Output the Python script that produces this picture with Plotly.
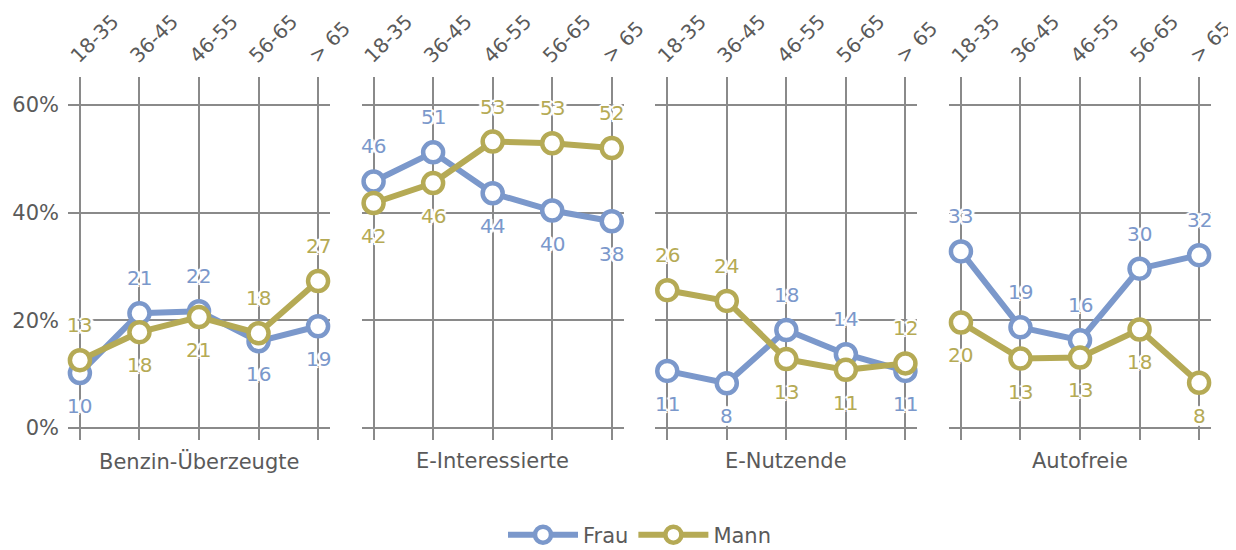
import plotly.graph_objects as go

categories = ["18-35", "36-45", "46-55", "56-65", "> 65"]
groups = ["Benzin-Überzeugte", "E-Interessierte", "E-Nutzende", "Autofreie"]

frau_benzin = [10.2, 21.3, 21.7, 16.1, 18.9]
mann_benzin = [12.6, 17.8, 20.6, 17.6, 27.3]
frau_einteressierte = [45.8, 51.2, 43.6, 40.4, 38.4]
mann_einteressierte = [41.8, 45.5, 53.2, 52.9, 52.0]
frau_enutzende = [10.6, 8.3, 18.2, 13.7, 10.6]
mann_enutzende = [25.6, 23.6, 12.8, 10.8, 12.0]
frau_autofrei = [32.8, 18.7, 16.3, 29.6, 32.1]
mann_autofrei = [19.6, 12.9, 13.1, 18.3, 8.4]

frau = [frau_benzin, frau_einteressierte, frau_enutzende, frau_autofrei]
mann = [mann_benzin, mann_einteressierte, mann_enutzende, mann_autofrei]

y_ticks = [0, 20, 40, 60]
y_ticklabels = ["0%", "20%", "40%", "60%"]

BLUE = "#7b98cb"
OLIVE = "#b5aa55"
GRID = "#8a8a8a"
TXT = "#5a5a5a"
FONT = "DejaVu Sans"
HALO = ("2px 0px 0px white, -2px 0px 0px white, 0px 2px 0px white, 0px -2px 0px white, "
        "1.5px 1.5px 0px white, -1.5px -1.5px 0px white, 1.5px -1.5px 0px white, -1.5px 1.5px 0px white, "
        "3px 0px 1px white, -3px 0px 1px white, 0px 3px 1px white, 0px -3px 1px white")

# page body has an 8px default margin; figure is sized to fit the 1236x550 window
W, H = 1228, 542
ML, MR, MT, MB = 60, 25, 69, 110
plot_h = H - MT - MB

fig = go.Figure()
n = len(groups)
w = 0.2292
gap = (1 - n * w) / (n - 1)
annotations = []
for i, g in enumerate(groups):
    xa = "x" if i == 0 else f"x{i+1}"
    ya = "y" if i == 0 else f"y{i+1}"
    for name, vals, other, col in [("Frau", frau[i], mann[i], BLUE), ("Mann", mann[i], frau[i], OLIVE)]:
        fig.add_trace(go.Scatter(
            x=categories, y=vals, name=name, mode="lines+markers",
            line=dict(color=col, width=6),
            marker=dict(symbol="circle", size=20, color="white", line=dict(color=col, width=4.5)),
            showlegend=(i == 0), legendgroup=name,
            xaxis=xa, yaxis=ya, cliponaxis=False, hoverinfo="skip",
        ))
        for c, v, o in zip(categories, vals, other):
            annotations.append(dict(
                x=c, y=v, xref=xa, yref=ya, text=f"{v:.0f}", showarrow=False,
                yshift=35 if v >= o else -33,
                font=dict(family=FONT, size=20, color=col, shadow=HALO),
            ))
    d0 = i * (w + gap)
    d1 = min(d0 + w, 1)
    annotations.append(dict(
        x=(d0 + d1) / 2, y=-21 / plot_h, xref="paper", yref="paper", text=g,
        showarrow=False, yanchor="middle", xanchor="center",
        font=dict(family=FONT, size=21, color=TXT),
    ))
    xkey = "xaxis" if i == 0 else f"xaxis{i+1}"
    ykey = "yaxis" if i == 0 else f"yaxis{i+1}"
    fig.update_layout(**{
        xkey: dict(domain=[d0, d1], anchor=ya, side="top", range=[-0.2, 4.2],
                   type="category", categoryorder="array", categoryarray=categories,
                   showgrid=True, gridcolor=GRID, gridwidth=1.5, showline=False,
                   zeroline=False, tickangle=-45, ticks="", automargin=False,
                   ticklabelshift=-8, ticklabelstandoff=5,
                   tickfont=dict(family=FONT, size=20, color=TXT)),
        ykey: dict(anchor=xa, range=[-2.23, 65.2], tickvals=y_ticks,
                   ticktext=y_ticklabels, showticklabels=(i == 0),
                   showgrid=True, gridcolor=GRID, gridwidth=1.5, zeroline=False,
                   showline=False, ticks="", ticklabelstandoff=8, automargin=False,
                   tickfont=dict(family=FONT, size=21, color=TXT)),
    })

fig.update_layout(
    width=W, height=H,
    margin=dict(l=ML, r=MR, t=MT, b=MB, autoexpand=False),
    paper_bgcolor="white", plot_bgcolor="white",
    annotations=annotations,
    legend=dict(orientation="h", x=0.5, xanchor="center", y=-95 / plot_h, yanchor="middle",
                font=dict(family=FONT, size=21, color=TXT), itemwidth=70),
    font=dict(family=FONT, color=TXT),
)

fig.write_html("out.html")
